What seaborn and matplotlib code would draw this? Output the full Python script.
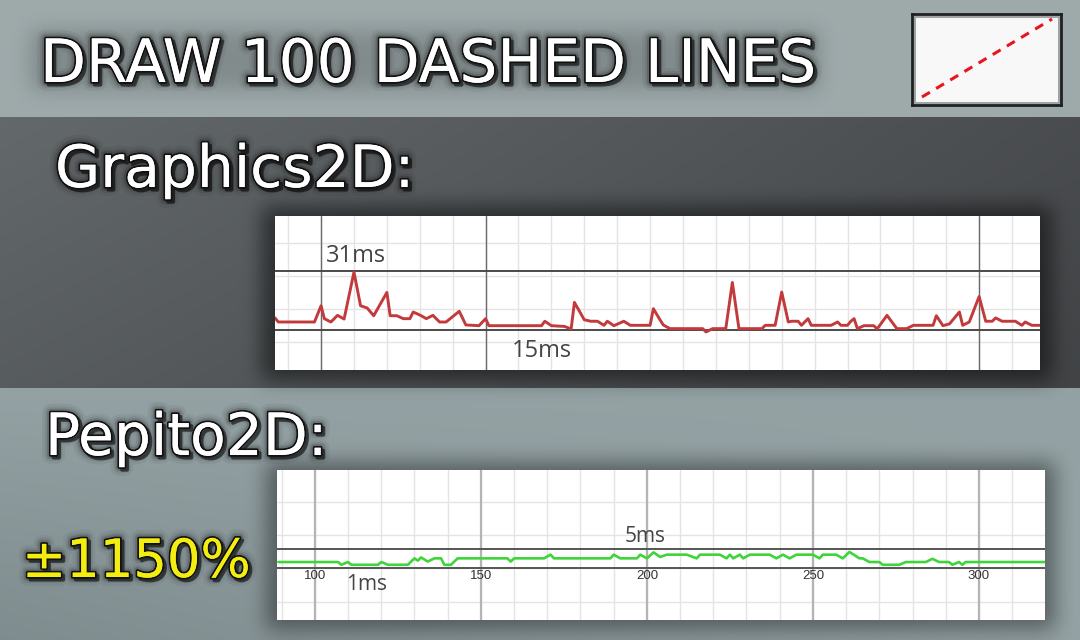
import numpy as np
import pandas as pd
import matplotlib
matplotlib.use("Agg")
import matplotlib.pyplot as plt
import matplotlib.patheffects as pe
from matplotlib.patches import Rectangle
import seaborn as sns

# Graphics2D: frame time (ms) per frame
g2d_frame = [86, 87, 98, 100, 101, 103, 105, 107, 110, 112, 114, 116, 120, 121, 123,
             125, 127, 128, 130, 132, 134, 136, 138, 142, 144, 148, 150, 151, 167, 168,
             170, 174, 176, 177, 180, 182, 184, 186, 187, 189, 192, 194, 200, 201, 203,
             204, 206, 216, 217, 219, 223, 225, 227, 234, 235, 238, 240, 242, 243, 245,
             246, 248, 249, 255, 257, 258, 260, 261, 262, 263, 265, 268, 269, 272, 275,
             278, 280, 286, 287, 289, 291, 294, 295, 297, 300, 302, 304, 305, 307, 311,
             313, 314, 316, 319]
g2d_ms = [18.3, 17.2, 17.2, 21.6, 18.1, 17.2, 19.0, 18.0, 30.7, 21.6, 21.0, 18.9, 25.2, 18.9, 18.9,
          18.1, 18.1, 19.9, 19.1, 18.1, 19.0, 17.2, 17.2, 20.1, 16.4, 16.2, 18.1, 16.2, 16.2, 17.4,
          16.2, 16.0, 15.3, 22.5, 17.8, 17.4, 17.4, 16.3, 17.4, 16.2, 17.4, 16.3, 16.3, 20.8, 17.8,
          16.4, 15.4, 15.4, 14.5, 15.4, 15.4, 27.9, 15.4, 15.4, 16.3, 16.3, 25.3, 17.2, 17.4, 17.4,
          16.3, 18.1, 16.3, 16.3, 17.2, 16.3, 16.3, 17.4, 18.1, 15.4, 16.2, 16.2, 15.3, 19.0, 15.4,
          15.4, 16.3, 16.3, 18.9, 16.2, 16.7, 19.9, 16.3, 17.2, 24.1, 17.4, 17.4, 18.3, 17.4, 17.4,
          16.3, 17.2, 16.3, 16.3]

# Pepito2D: frame time (ms) per frame
p2d_frame = [89, 107, 108, 110, 111, 119, 120, 122, 128, 130, 131, 132, 134, 136, 138,
             139, 141, 143, 158, 159, 160, 169, 171, 172, 189, 190, 192, 197, 198, 200,
             202, 204, 206, 212, 215, 216, 222, 224, 225, 226, 228, 229, 231, 237, 239,
             241, 243, 245, 250, 252, 253, 257, 259, 261, 264, 265, 267, 270, 271, 276,
             278, 284, 286, 288, 291, 292, 294, 295, 296, 320]
p2d_ms = [2.2, 2.2, 1.6, 2.2, 1.6, 1.6, 2.2, 1.6, 1.6, 3.0, 2.5, 3.2, 2.3, 3.0, 3.0,
          1.6, 1.6, 3.0, 3.0, 2.3, 3.0, 3.0, 3.8, 3.0, 3.0, 3.8, 3.0, 3.0, 3.8, 3.0,
          4.3, 3.3, 3.8, 3.8, 3.0, 3.8, 3.8, 3.0, 3.8, 3.0, 3.8, 3.0, 3.8, 3.8, 3.0,
          3.8, 3.0, 3.8, 3.8, 3.0, 3.8, 3.8, 3.0, 4.4, 3.0, 3.0, 2.2, 2.2, 1.6, 1.6,
          2.2, 2.2, 2.9, 2.2, 2.2, 1.6, 2.2, 1.6, 2.2, 2.2]

g2d_marks = [31, 15]        # reference lines, ms
p2d_marks = [5, 1]
frame_ticks = [100, 150, 200, 250, 300]
g2d_dark_frames = [100, 150, 300]

title = "DRAW 100 DASHED LINES"
gain_label = "±1150%"

sns.set_theme(style="white")
plt.rcParams["font.family"] = ["DejaVu Sans"]

W, H = 1080, 640
fig = plt.figure(figsize=(W / 100, H / 100), dpi=100)


def blur(a, r):
    for axis in (0, 1):
        for _ in range(3):
            pad = [(0, 0), (0, 0)]
            pad[axis] = (r, r)
            p = np.pad(a, pad, mode="edge")
            c = np.cumsum(p, axis=axis)
            c = np.concatenate([np.zeros_like(np.take(c, [0], axis=axis)), c], axis=axis)
            n = a.shape[axis]
            a = (np.take(c, np.arange(2 * r + 1, 2 * r + 1 + n), axis=axis)
                 - np.take(c, np.arange(0, n), axis=axis)) / (2 * r + 1)
    return a


# ---- background: light top strip, dark middle band, light bottom
yy, xx = np.mgrid[0:H, 0:W].astype(float)
bg = np.zeros((H, W, 3))
top = np.array([0.62, 0.665, 0.67])
bot_hi = np.array([0.58, 0.635, 0.645])
bot_lo = np.array([0.50, 0.55, 0.56])
band_l = np.array([0.39, 0.41, 0.42])
band_r = np.array([0.29, 0.30, 0.31])
t = (xx / W)[..., None]
band = band_l * (1 - t) + band_r * t
band = band * (1.0 - 0.12 * ((yy - 117) / 270).clip(0, 1))[..., None]
s = (((yy - 388) / 252).clip(0, 1) * (1 - xx / W))[..., None]
bot = bot_hi * (1 - s) + bot_lo * s
bg[:] = bot
bg[yy < 388] = band[yy < 388]
bg[yy < 117] = top

shadow = np.zeros((H, W))
shadow[206:380, 262:1052] = 1.0      # red panel
shadow[462:630, 266:1055] = 0.8      # green panel
shadow[30:90, 30:820] = 0.35         # title glow
shadow = blur(shadow, 9)
bg = bg * (1 - 0.5 * shadow)[..., None]

ax_bg = fig.add_axes([0, 0, 1, 1])
ax_bg.imshow(bg.clip(0, 1), aspect="auto", extent=[0, W, H, 0])
ax_bg.set_xlim(0, W)
ax_bg.set_ylim(H, 0)
ax_bg.axis("off")


def px_axes(x0, y0, x1, y1):
    return fig.add_axes([x0 / W, 1 - y1 / H, (x1 - x0) / W, (y1 - y0) / H])


def panel_style(ax, xgrid, ygrid):
    ax.set_facecolor("white")
    ax.set_xticks(xgrid)
    ax.set_yticks(ygrid)
    ax.grid(True, color="#e4e4e4", linewidth=1.0)
    ax.tick_params(length=0, labelbottom=False, labelleft=False)
    ax.set_xlabel("")
    ax.set_ylabel("")
    for sp in ax.spines.values():
        sp.set_visible(False)


# ---- Graphics2D panel
ax_r = px_axes(275, 216, 1040, 370)
df_r = pd.DataFrame({"frame": g2d_frame, "ms": g2d_ms})
sns.lineplot(data=df_r, x="frame", y="ms", ax=ax_r, color="#c33a3d",
             linewidth=2.1, estimator=None, sort=False, zorder=5)
ax_r.set_xlim(86, 318.5)
ax_r.set_ylim(4.2, 45.9)
panel_style(ax_r, np.arange(90, 320, 10), np.arange(11.7, 45, 8.95))
for f in g2d_dark_frames:
    ax_r.axvline(f, color="#6a6a6a", linewidth=1.0, zorder=2)
for m in g2d_marks:
    ax_r.axhline(m, color="#4a4a4a", linewidth=1.4, zorder=3)
lab_kw = dict(color="#444444", family="Open Sans", transform=ax_r.transAxes)
ax_r.text(0.067, 0.703, f"{g2d_marks[0]}ms", fontsize=17, **lab_kw)
ax_r.text(0.31, 0.086, f"{g2d_marks[1]}ms", fontsize=17, **lab_kw)

# ---- Pepito2D panel
ax_g = px_axes(277, 470, 1045, 620)
df_g = pd.DataFrame({"frame": p2d_frame, "ms": p2d_ms})
sns.lineplot(data=df_g, x="frame", y="ms", ax=ax_g, color="#3fd43a",
             linewidth=1.9, estimator=None, sort=False, zorder=5)
ax_g.set_xlim(88.6, 319.9)
ax_g.set_ylim(-10.4, 22.2)
panel_style(ax_g, np.arange(90, 320, 10), np.arange(-6.4, 22, 7.24))
for f in frame_ticks:
    ax_g.axvline(f, color="#b4b4b4", linewidth=1.6, zorder=2)
    ax_g.text(f, 0.273, str(f), transform=ax_g.get_xaxis_transform(),
              ha="center", va="baseline", fontsize=9.5, color="#333333",
              family="Liberation Sans")
for m in p2d_marks:
    ax_g.axhline(m, color="#555555", linewidth=1.4, zorder=3)
lab_kw = dict(color="#444444", family="Open Sans", transform=ax_g.transAxes)
ax_g.text(0.452, 0.52, f"{p2d_marks[0]}ms", fontsize=15, **lab_kw)
ax_g.text(0.09, 0.20, f"{p2d_marks[1]}ms", fontsize=15, **lab_kw)

# ---- thumbnail with a dashed diagonal
ax_t = px_axes(912, 14, 1061, 105)
ax_t.set_facecolor("#f8f8f8")
sns.lineplot(x=[0, 1], y=[0, 1], ax=ax_t, color="#e8141e", linewidth=2.2,
             dashes=False, linestyle=(0, (3.0, 2.4)))
ax_t.set_xlim(-0.0767, 1.0687)
ax_t.set_ylim(-0.1027, 1.064)
ax_t.set_xticks([])
ax_t.set_yticks([])
for sp in ax_t.spines.values():
    sp.set_color("#1e2224")
    sp.set_linewidth(2.0)
ax_t.add_patch(Rectangle((0.012, 0.02), 0.976, 0.96, transform=ax_t.transAxes,
                         fill=False, edgecolor="#a0a4a4", linewidth=2.2))


# ---- big outlined headings
def glow(width):
    return [pe.withStroke(linewidth=width + 10, foreground="black", alpha=0.05),
            pe.withStroke(linewidth=width + 6, foreground="black", alpha=0.08),
            pe.withStroke(linewidth=width + 3, foreground="black", alpha=0.15),
            pe.SimpleLineShadow(offset=(2, -2), shadow_color="black", alpha=0.55, linewidth=width),
            pe.withStroke(linewidth=width, foreground="#111111"),
            pe.Normal()]


def heading(x, y, s, size, color="white"):
    fig.text(x / W, 1 - y / H, s, fontsize=size, color=color, ha="left",
             va="baseline", path_effects=glow(2.6))


heading(40, 82, title, 43)
heading(55, 187, "Graphics2D:", 42)
heading(45, 455, "Pepito2D:", 42)
heading(22, 577, gain_label, 38, color="#f4ee10")

fig.savefig("out.png", dpi=100)
